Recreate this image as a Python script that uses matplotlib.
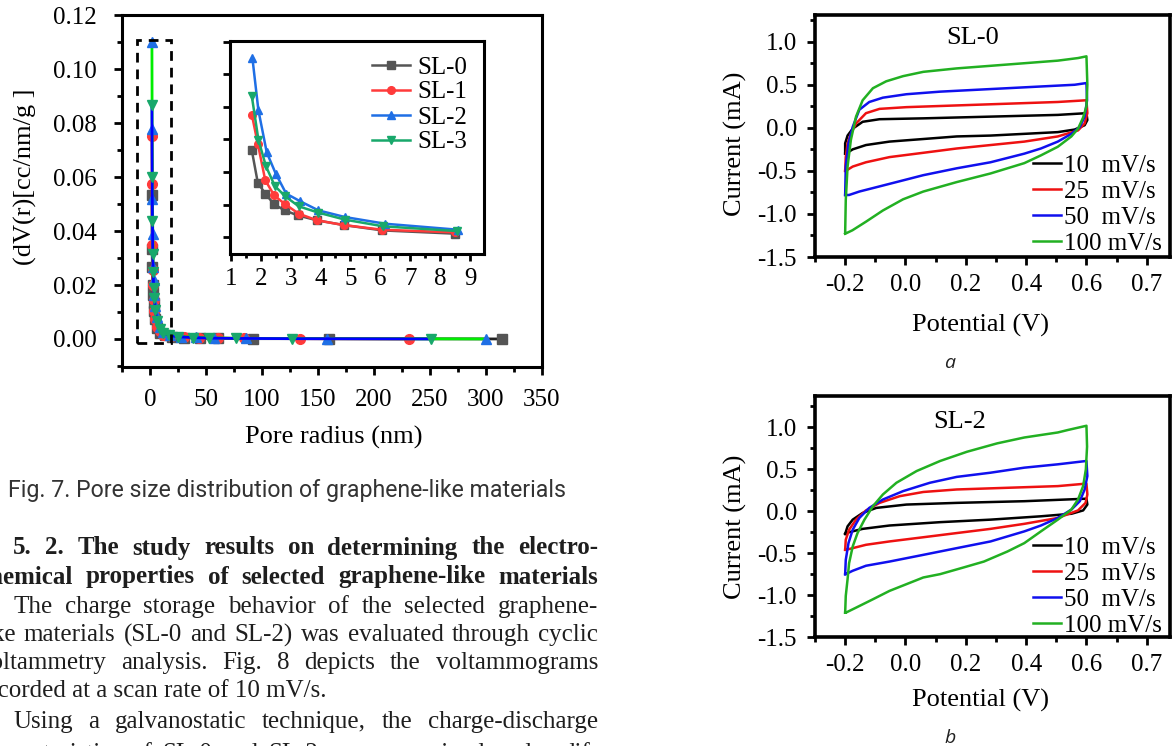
import matplotlib
matplotlib.use('Agg')
import matplotlib.pyplot as plt
from matplotlib.patches import Rectangle
from matplotlib.ticker import MultipleLocator

plt.rcParams['font.family'] = 'Liberation Serif'
plt.rcParams['axes.unicode_minus'] = False

W, H = 1173, 746

# --- Fig. 7 pore size distribution: radius (nm) vs dV(r) (cc/nm/g)
sl0_r = [1.70, 1.90, 2.15, 2.45, 2.80, 3.24, 3.88, 4.77, 6.07, 8.50, 13, 20, 30, 45, 61, 92, 160, 314]
sl0_v = [0.0533, 0.0334, 0.0267, 0.0201, 0.0164, 0.0133, 0.0103, 0.0074, 0.0041, 0.0021,
         0.0013, 0.0008, 0.0005, 0.0003, 0.0002, 0.0001, 0.0001, 0.0]
sl1_r = [1.70, 1.90, 2.15, 2.45, 2.82, 3.27, 3.88, 4.77, 6.07, 8.50, 12, 19, 30, 44, 61, 84, 134, 231]
sl1_v = [0.0753, 0.0574, 0.0349, 0.0256, 0.0201, 0.0144, 0.0103, 0.0074, 0.0045, 0.0029,
         0.0016, 0.0010, 0.0006, 0.0004, 0.0003, 0.0002, 0.0001, 0.0]
sl2_r = [1.72, 1.92, 2.20, 2.50, 2.85, 3.32, 3.93, 4.82, 6.16, 8.61, 12, 18, 28, 41, 57, 86, 158, 300]
sl2_v = [0.110, 0.078, 0.052, 0.039, 0.0267, 0.022, 0.0164, 0.0123, 0.0082, 0.0045,
         0.0025, 0.0014, 0.0009, 0.0006, 0.0004, 0.0002, 0.0001, 0.0]
sl3_r = [1.70, 1.92, 2.17, 2.47, 2.82, 3.27, 3.93, 4.82, 6.10, 8.56, 12, 17, 25, 38, 53, 77, 127, 251]
sl3_v = [0.0866, 0.0599, 0.0437, 0.0314, 0.025, 0.0189, 0.015, 0.0107, 0.0066, 0.0037,
         0.0022, 0.0013, 0.0008, 0.0005, 0.0003, 0.0002, 0.0001, 0.0]
samples = ['SL-0', 'SL-1', 'SL-2', 'SL-3']

# --- Fig. 8 cyclic voltammograms: potential (V) / current (mA)
a10_e = [-0.2, -0.2, -0.192, -0.175, -0.142, -0.086, 0.059, 0.282, 0.505, 0.6, 0.603, 0.594, 0.561,
         0.505, 0.394, 0.282, 0.170, 0.059, -0.053, -0.131, -0.175, -0.198, -0.2]
a10_i = [-0.30, -0.18, -0.09, -0.01, 0.07, 0.10, 0.11, 0.13, 0.15, 0.17, 0.09, 0.03, -0.02,
         -0.05, -0.07, -0.09, -0.10, -0.13, -0.16, -0.20, -0.25, -0.30, -0.30]
a25_e = [-0.2, -0.198, -0.192, -0.181, -0.164, -0.131, -0.086, 0.003, 0.170, 0.338, 0.505, 0.6, 0.603,
         0.594, 0.572, 0.505, 0.394, 0.282, 0.170, 0.059, -0.053, -0.131, -0.175, -0.198, -0.2]
a25_i = [-0.50, -0.34, -0.18, -0.07, 0.05, 0.17, 0.22, 0.24, 0.26, 0.28, 0.30, 0.32, 0.17,
         0.05, -0.03, -0.10, -0.16, -0.20, -0.24, -0.29, -0.34, -0.40, -0.45, -0.50, -0.50]
a50_e = [-0.2, -0.198, -0.189, -0.175, -0.153, -0.12, -0.075, 0.003, 0.115, 0.226, 0.338, 0.449, 0.561,
         0.6, 0.602, 0.594, 0.578, 0.55, 0.505, 0.449, 0.394, 0.282, 0.17, 0.059, -0.03, -0.097,
         -0.153, -0.187, -0.2]
a50_i = [-0.78, -0.45, -0.18, 0.01, 0.21, 0.30, 0.35, 0.39, 0.42, 0.44, 0.46, 0.48, 0.50,
         0.52, 0.32, 0.13, 0.01, -0.07, -0.16, -0.24, -0.30, -0.40, -0.47, -0.55, -0.63, -0.69,
         -0.74, -0.78, -0.78]
a100_e = [-0.2, -0.198, -0.192, -0.181, -0.164, -0.142, -0.108, -0.064, -0.008, 0.059, 0.170, 0.282,
          0.394, 0.505, 0.572, 0.6, 0.603, 0.6, 0.589, 0.572, 0.55, 0.505, 0.449, 0.394, 0.282,
          0.170, 0.059, -0.008, -0.075, -0.131, -0.176, -0.2]
a100_i = [-1.22, -0.84, -0.45, -0.14, 0.13, 0.32, 0.46, 0.54, 0.60, 0.65, 0.69, 0.72,
          0.75, 0.78, 0.81, 0.83, 0.50, 0.25, 0.12, -0.01, -0.10, -0.22, -0.32, -0.41, -0.53,
          -0.63, -0.74, -0.83, -0.96, -1.09, -1.19, -1.23]

b10_e = [-0.2, -0.192, -0.175, -0.142, -0.097, 0.003, 0.17, 0.394, 0.6, 0.603, 0.589, 0.55, 0.449,
         0.282, 0.115, -0.053, -0.142, -0.187, -0.2]
b10_i = [-0.27, -0.18, -0.10, -0.02, 0.04, 0.08, 0.10, 0.12, 0.15, 0.08, 0.01, -0.03, -0.06,
         -0.10, -0.13, -0.17, -0.21, -0.25, -0.27]
b25_e = [-0.2, -0.198, -0.187, -0.164, -0.131, -0.086, -0.019, 0.059, 0.17, 0.338, 0.505, 0.6, 0.603,
         0.597, 0.572, 0.505, 0.394, 0.282, 0.17, 0.059, -0.053, -0.131, -0.175, -0.198, -0.2]
b25_i = [-0.46, -0.34, -0.22, -0.10, 0.01, 0.10, 0.18, 0.23, 0.26, 0.28, 0.30, 0.33, 0.20,
         0.10, 0.01, -0.08, -0.15, -0.21, -0.26, -0.31, -0.36, -0.40, -0.44, -0.46, -0.46]
b50_e = [-0.2, -0.198, -0.189, -0.175, -0.153, -0.12, -0.075, -0.008, 0.081, 0.17, 0.282, 0.394, 0.505,
         0.6, 0.603, 0.594, 0.578, 0.55, 0.505, 0.449, 0.394, 0.282, 0.17, 0.059, -0.053, -0.131,
         -0.175, -0.198, -0.2]
b50_i = [-0.75, -0.58, -0.38, -0.22, -0.08, 0.04, 0.14, 0.24, 0.34, 0.41, 0.46, 0.52, 0.56,
         0.60, 0.42, 0.26, 0.12, 0.02, -0.08, -0.17, -0.24, -0.36, -0.44, -0.52, -0.60, -0.65,
         -0.71, -0.75, -0.75]
b100_e = [-0.2, -0.198, -0.192, -0.187, -0.175, -0.159, -0.136, -0.108, -0.075, -0.03, 0.037, 0.115,
          0.204, 0.304, 0.394, 0.505, 0.539, 0.6, 0.602, 0.598, 0.589, 0.572, 0.55, 0.505, 0.449,
          0.394, 0.338, 0.26, 0.193, 0.115, 0.059, 0.003, -0.053, -0.108, -0.164, -0.198, -0.2]
b100_i = [-1.21, -1.01, -0.81, -0.62, -0.42, -0.26, -0.10, 0.06, 0.20, 0.34, 0.48, 0.60,
          0.71, 0.81, 0.88, 0.94, 0.97, 1.02, 0.77, 0.50, 0.30, 0.14, 0.02, -0.10, -0.24,
          -0.38, -0.48, -0.60, -0.67, -0.75, -0.79, -0.87, -0.95, -1.05, -1.15, -1.21, -1.21]
rates = ['10  mV/s', '25  mV/s', '50  mV/s', '100 mV/s']

# --- page text
caption = 'Fig. 7. Pore size distribution of graphene-like materials'
heading = ['5. 2. The study results on determining the electro-',
           'chemical properties of selected graphene-like materials']
body = ['The charge storage behavior of the selected graphene-',
        'like materials (SL-0 and SL-2) was evaluated through cyclic',
        'voltammetry analysis. Fig. 8 depicts the voltammograms',
        'recorded at a scan rate of 10 mV/s.',
        'Using a galvanostatic technique, the charge-discharge',
        'characteristics of SL-0 and SL-2 were examined under dif-']

fig = plt.figure(figsize=(W / 100, H / 100), dpi=100)
page = fig.add_axes([0, 0, 1, 1])
page.set_xlim(0, W)
page.set_ylim(H, 0)
page.axis('off')


def box(l, t, r, b):
    return [l / W, 1 - b / H, (r - l) / W, (b - t) / H]


def style(ax, lw=2.2):
    for s in ax.spines.values():
        s.set_linewidth(lw)
    ax.tick_params(which='both', direction='out', width=2, labelsize=18)
    ax.tick_params(which='major', length=6)
    ax.tick_params(which='minor', length=3.5)


# main PSD plot
ax = fig.add_axes(box(122, 15, 542, 367))
ax.set_facecolor('none')
line_cols = ['#222222', '#ff3535', '#00ee00', '#0000ff']
mark_cols = ['#555555', '#ff3b3b', '#1f6fe5', '#18a86b']
marks = ['s', 'o', '^', 'v']
data = [(sl0_r, sl0_v), (sl1_r, sl1_v), (sl2_r, sl2_v), (sl3_r, sl3_v)]
for (r, v), lc, mc, mk in zip(data, line_cols, mark_cols, marks):
    ax.plot(r, v, color=lc, lw=2, marker=mk, ms=7, mfc=mc, mec=mc, clip_on=False)
ax.add_patch(Rectangle((-12, -0.0015), 31, 0.1125, fill=False, ec='black', lw=2,
                       ls=(0, (3.5, 2.5)), zorder=5))
ax.set_xlim(-25, 350)
ax.set_ylim(-0.0104, 0.1201)
ax.set_xticks(range(0, 351, 50))
ax.xaxis.set_minor_locator(MultipleLocator(25))
yt = [0.0, 0.02, 0.04, 0.06, 0.08, 0.10, 0.12]
ax.set_yticks(yt)
ax.set_yticklabels([f'{t:.2f}' for t in yt])
ax.yaxis.set_minor_locator(MultipleLocator(0.01))
style(ax)
ax.tick_params(axis='x', which='major', pad=10)
ax.tick_params(axis='y', which='major', pad=12)

# inset
ai = fig.add_axes(box(230, 41, 484, 254))
for (r, v), mc, mk, lab in zip(data, mark_cols, marks, samples):
    ai.plot(r[:10], v[:10], color=mc, lw=1.8, marker=mk, ms=5.5, mfc=mc, mec=mc, label=lab)
ai.set_xlim(0.97, 9.47)
ai.set_ylim(-0.0104, 0.1205)
ai.set_xticks(range(1, 10))
ai.xaxis.set_minor_locator(MultipleLocator(0.5))
ai.set_yticks(yt)
ai.set_yticklabels([])
style(ai)
ai.tick_params(which='major', length=5)
ai.tick_params(which='minor', length=3)
ai.tick_params(axis='x', pad=5)
ai.legend(loc='upper left', bbox_to_anchor=(372, 56), bbox_transform=page.transData,
          frameon=False, fontsize=18, handlelength=1.5, handletextpad=0.3,
          labelspacing=0.1, borderpad=0, borderaxespad=0)

page.text(25, 177, '(dV(r)[cc/nm/g ]', rotation=90, ha='center', va='center', fontsize=19)
page.text(334, 437, 'Pore radius (nm)', ha='center', va='center', fontsize=19)

# CV plots
cv_cols = ['black', '#ee1111', '#1010ee', '#22b022']
cv_sets = [
    (box(815, 15, 1170, 257), 1.31, 'SL-0', (973, 38),
     [(a10_e, a10_i), (a25_e, a25_i), (a50_e, a50_i), (a100_e, a100_i)], 154, 144, 325, 'a', 363),
    (box(815, 396, 1170, 637), 1.375, 'SL-2', (960, 422),
     [(b10_e, b10_i), (b25_e, b25_i), (b50_e, b50_i), (b100_e, b100_i)], 536, 527, 700, 'b', 738),
]
for pos, ytop, name, npos, loops, legy, ylab_y, xlab_y, letter, let_y in cv_sets:
    cv = fig.add_axes(pos)
    cv.set_facecolor('none')
    for (e, i), c, lab in zip(loops, cv_cols, rates):
        cv.plot(e, i, color=c, lw=1.8, label=lab)
    cv.set_xlim(-0.3, 0.877)
    cv.set_ylim(-1.5, ytop)
    cv.set_xticks([-0.2, 0.0, 0.2, 0.4, 0.6, 0.8])
    cv.set_xticklabels(['-0.2', '0.0', '0.2', '0.4', '0.6', '0.7'])
    cv.xaxis.set_minor_locator(MultipleLocator(0.1))
    cv.set_yticks([-1.5, -1.0, -0.5, 0.0, 0.5, 1.0])
    cv.set_yticklabels(['-1.5', '-1.0', '-0.5', '0.0', '0.5', '1.0'])
    cv.yaxis.set_minor_locator(MultipleLocator(0.25))
    style(cv, 2.6)
    cv.tick_params(axis='x', which='major', pad=6)
    cv.tick_params(axis='y', pad=7)
    cv.legend(loc='upper left', bbox_to_anchor=(1033, legy), bbox_transform=page.transData,
              frameon=False, fontsize=18, handlelength=1.1, handletextpad=0.12,
              labelspacing=0.14, borderpad=0, borderaxespad=0)
    page.text(npos[0], npos[1], name, ha='center', va='center', fontsize=19)
    page.text(735, ylab_y, 'Current (mA)', rotation=90, ha='center', va='center', fontsize=19)
    page.text(980, xlab_y, 'Potential (V)', ha='center', va='center', fontsize=19)
    page.text(950, let_y, letter, ha='center', va='center', fontsize=14,
              family='Open Sans', style='italic', color='#222222')

# article text
rend = fig.canvas.get_renderer()


def width(t):
    return t.get_window_extent(renderer=rend).width


def put_line(s, x0, x1, y, **kw):
    if x1 is None:
        page.text(x0, y, s, ha='left', va='center', **kw)
        return
    words = [page.text(0, y, w, ha='left', va='center', **kw) for w in s.split(' ')]
    ws = [width(t) for t in words]
    gap = (x1 - x0 - sum(ws)) / (len(words) - 1)
    x = x0
    for t, w in zip(words, ws):
        t.set_x(x)
        x += w + gap


cap = page.text(8, 491, caption, ha='left', va='center', fontsize=13,
                family='Roboto', color='#333333')
cap.set_fontsize(13 * 558 / width(cap))

txt = dict(fontsize=18, color='#1e1e1e')
col_left, col_right, indent = -22, 598, 13
put_line(heading[0], indent, col_right, 548, weight='bold', **txt)
put_line(heading[1], col_left, col_right, 577, weight='bold', **txt)
body_y = [607, 635, 663, 691, 722, 754]
for k, (s, y) in enumerate(zip(body, body_y)):
    x0 = indent if k in (0, 4) else col_left
    x1 = None if k == 3 else col_right
    put_line(s, x0, x1, y, **txt)

fig.savefig('out.png', dpi=100)
